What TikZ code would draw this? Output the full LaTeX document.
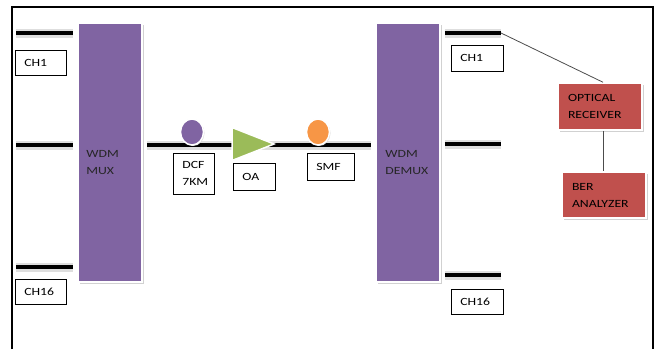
\documentclass[tikz,border=0pt]{standalone}
\usepackage{fontspec}
\setmainfont{Carlito}[FakeStretch=1.25]
\usetikzlibrary{shapes.geometric}
\usetikzlibrary{shadows}

\definecolor{muxpurple}{HTML}{8064A2}
\definecolor{oagreen}{HTML}{9BBB59}
\definecolor{smforange}{HTML}{F79646}
\definecolor{rxred}{HTML}{C0504D}

\begin{document}
\begin{tikzpicture}[x=1pt, y=-1pt, thick,
		font=\fontsize{11}{17}\selectfont,
		unit/.style={draw=white, line width=1.5pt, inner sep=0pt,
			drop shadow={shadow xshift=1.5pt, shadow yshift=-1.5pt, fill=black!18, opacity=1}},
		fiber/.style={line width=4.5pt, draw=black,
			preaction={draw=black!13, line width=9pt}},
		lbl/.style={draw, line width=0.6pt, fill=white, inner xsep=9pt, inner ysep=0pt,
			align=left, anchor=north west},
		spot/.style={ellipse, draw=white, line width=1.5pt, minimum width=23pt, minimum height=26pt,
			drop shadow={shadow xshift=1pt, shadow yshift=-1pt, fill=black!15, opacity=1}}]
	\useasboundingbox (0,0) rectangle (664,349);
	\draw[line width=1.5pt] (12,349) -- (12,7) -- (653,7) -- (653,349);

	% multiplexer and demultiplexer
	\node[unit, fill=muxpurple, minimum width=64pt, minimum height=259pt] (mux) at (110,152.5) {};
	\node[unit, fill=muxpurple, minimum width=64pt, minimum height=259pt] (demux) at (408,152.5) {};
	\node[anchor=west, align=left, inner sep=0pt, text=black!85] (muxtxt) at (86,163) {WDM\\MUX};
	\node[anchor=west, align=left, inner sep=0pt, text=black!85] (demuxtxt) at (385,163) {WDM\\DEMUX};

	% input channels
	\coordinate (in1) at (16,33);
	\coordinate (in8) at (16,145);
	\coordinate (in16) at (16,267);
	\draw[fiber, shorten >=4pt] (in1) -- (in1 -| mux.west);
	\draw[fiber, shorten >=4pt] (in8) -- (in8 -| mux.west);
	\draw[fiber, shorten >=4pt] (in16) -- (in16 -| mux.west);
	\node[lbl, text width=33pt, minimum height=25pt] (ch1in) at (15,50) {CH1};
	\node[lbl, text width=33pt, minimum height=25pt] (ch16in) at (15,279) {CH16};

	% link
	\draw[fiber, shorten <=4pt, shorten >=4pt] (mux.east |- in8) -- (demux.west |- in8);
	\node[spot, fill=muxpurple] (dcf) at (192,132) {};
	\node[isosceles triangle, isosceles triangle stretches, fill=oagreen, draw=white, line width=1.5pt,
		minimum width=33pt, minimum height=42pt, inner sep=0pt, anchor=apex] (oa) at (276,144) {};
	\node[spot, fill=smforange] (smf) at (318,132) {};
	\node[lbl, text width=23pt, minimum height=41pt, inner xsep=9pt] (dcflbl) at (173,153) {DCF\\7KM};
	\node[lbl, text width=24pt, minimum height=27pt] (oalbl) at (233,163) {OA};
	\node[lbl, text width=29pt, minimum height=27pt] (smflbl) at (307,153) {SMF};

	% output channels
	\coordinate (out1) at (501,33);
	\coordinate (out8) at (501,144);
	\coordinate (out16) at (501,275);
	\draw[fiber, shorten <=4pt] (demux.east |- out1) -- (out1);
	\draw[fiber, shorten <=4pt] (demux.east |- out8) -- (out8);
	\draw[fiber, shorten <=4pt] (demux.east |- out16) -- (out16);
	\node[lbl, text width=34pt, minimum height=26pt] (ch1out) at (451,45) {CH1};
	\node[lbl, text width=34pt, minimum height=25pt] (ch16out) at (451,289) {CH16};

	% receiver side
	\node[unit, fill=rxred, minimum width=84pt, minimum height=47pt, text width=64pt,
		inner xsep=10pt, align=left] (rx) at (600,106.5) {OPTICAL\\RECEIVER};
	\node[unit, fill=rxred, minimum width=84pt, minimum height=46pt, text width=64pt,
		inner xsep=10pt, align=left] (ber) at (604,195) {BER\\ANALYZER};
	\draw[line width=0.8pt, black!70] (out1) -- ([xshift=3pt]rx.north);
	\draw[line width=0.8pt, black!70] ([xshift=3pt]rx.south) -- ([xshift=3pt]rx.south |- ber.north);
\end{tikzpicture}
\end{document}
